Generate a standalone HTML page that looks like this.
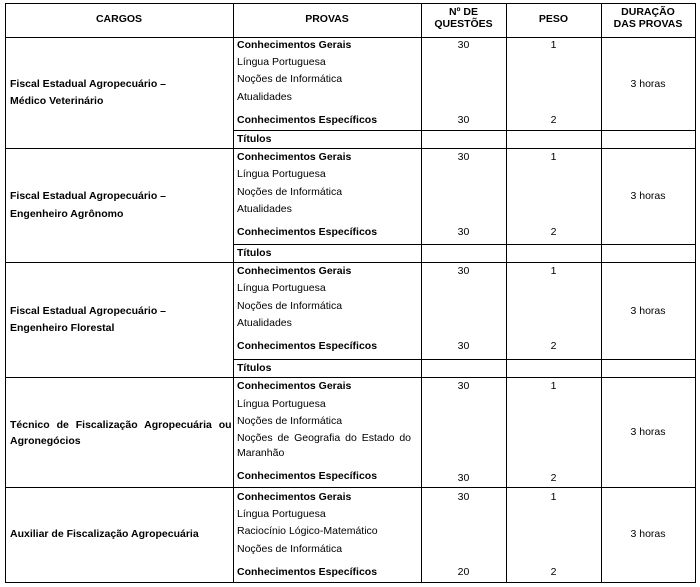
<!DOCTYPE html>
<html><head><meta charset="utf-8"><style>
body{margin:0;width:700px;height:587px;background:#fff;position:relative;overflow:hidden;font-family:"Liberation Sans",sans-serif;font-size:10.5px;color:#000}
.h{position:absolute;background:#000;height:1px}
.v{position:absolute;background:#000;width:1px}
.t{position:absolute;line-height:12px;white-space:nowrap}
.b{font-weight:bold}
.c{text-align:center}
</style></head><body>
<div class="h" style="left:5px;width:691px;top:3px"></div>
<div class="h" style="left:5px;width:691px;top:37px"></div>
<div class="h" style="left:233px;width:463px;top:130px"></div>
<div class="h" style="left:5px;width:691px;top:148px"></div>
<div class="h" style="left:233px;width:463px;top:244px"></div>
<div class="h" style="left:5px;width:691px;top:262px"></div>
<div class="h" style="left:233px;width:463px;top:359px"></div>
<div class="h" style="left:5px;width:691px;top:377px"></div>
<div class="h" style="left:5px;width:691px;top:487px"></div>
<div class="h" style="left:5px;width:691px;top:582px"></div>
<div class="v" style="left:5px;top:3px;height:580px"></div>
<div class="v" style="left:233px;top:3px;height:580px"></div>
<div class="v" style="left:421px;top:3px;height:580px"></div>
<div class="v" style="left:506px;top:3px;height:580px"></div>
<div class="v" style="left:601px;top:3px;height:580px"></div>
<div class="v" style="left:695px;top:3px;height:580px"></div>

<div class="t b c" style="left:5px;width:228px;top:13px">CARGOS</div>
<div class="t b c" style="left:233px;width:188px;top:13px">PROVAS</div>
<div class="t b c" style="left:421px;width:85px;top:6px">Nº DE<br>QUESTÕES</div>
<div class="t b c" style="left:506px;width:95px;top:13px">PESO</div>
<div class="t b c" style="left:601px;width:94px;top:6px">DURAÇÃO<br>DAS PROVAS</div>

<!-- section 1 -->
<div class="t b" style="left:10px;top:78px">Fiscal Estadual Agropecuário –</div>
<div class="t b" style="left:10px;top:95px">Médico Veterinário</div>
<div class="t b" style="left:237px;top:39px">Conhecimentos Gerais</div>
<div class="t" style="left:237px;top:56px">Língua Portuguesa</div>
<div class="t" style="left:237px;top:73px">Noções de Informática</div>
<div class="t" style="left:237px;top:91px">Atualidades</div>
<div class="t b" style="left:237px;top:114px">Conhecimentos Específicos</div>
<div class="t b" style="left:237px;top:133px">Títulos</div>
<div class="t c" style="left:421px;width:85px;top:39px">30</div>
<div class="t c" style="left:506px;width:95px;top:39px">1</div>
<div class="t c" style="left:421px;width:85px;top:114px">30</div>
<div class="t c" style="left:506px;width:95px;top:114px">2</div>
<div class="t c" style="left:601px;width:94px;top:78px">3 horas</div>

<!-- section 2 -->
<div class="t b" style="left:10px;top:190px">Fiscal Estadual Agropecuário –</div>
<div class="t b" style="left:10px;top:208px">Engenheiro Agrônomo</div>
<div class="t b" style="left:237px;top:151px">Conhecimentos Gerais</div>
<div class="t" style="left:237px;top:168px">Língua Portuguesa</div>
<div class="t" style="left:237px;top:186px">Noções de Informática</div>
<div class="t" style="left:237px;top:203px">Atualidades</div>
<div class="t b" style="left:237px;top:226px">Conhecimentos Específicos</div>
<div class="t b" style="left:237px;top:247px">Títulos</div>
<div class="t c" style="left:421px;width:85px;top:151px">30</div>
<div class="t c" style="left:506px;width:95px;top:151px">1</div>
<div class="t c" style="left:421px;width:85px;top:226px">30</div>
<div class="t c" style="left:506px;width:95px;top:226px">2</div>
<div class="t c" style="left:601px;width:94px;top:190px">3 horas</div>

<!-- section 3 -->
<div class="t b" style="left:10px;top:305px">Fiscal Estadual Agropecuário –</div>
<div class="t b" style="left:10px;top:322px">Engenheiro Florestal</div>
<div class="t b" style="left:237px;top:265px">Conhecimentos Gerais</div>
<div class="t" style="left:237px;top:282px">Língua Portuguesa</div>
<div class="t" style="left:237px;top:300px">Noções de Informática</div>
<div class="t" style="left:237px;top:317px">Atualidades</div>
<div class="t b" style="left:237px;top:340px">Conhecimentos Específicos</div>
<div class="t b" style="left:237px;top:362px">Títulos</div>
<div class="t c" style="left:421px;width:85px;top:265px">30</div>
<div class="t c" style="left:506px;width:95px;top:265px">1</div>
<div class="t c" style="left:421px;width:85px;top:340px">30</div>
<div class="t c" style="left:506px;width:95px;top:340px">2</div>
<div class="t c" style="left:601px;width:94px;top:305px">3 horas</div>

<!-- section 4 -->
<div class="t b" style="left:10px;top:419px;word-spacing:4px">Técnico de Fiscalização Agropecuária ou</div>
<div class="t b" style="left:10px;top:435px">Agronegócios</div>
<div class="t b" style="left:237px;top:380px">Conhecimentos Gerais</div>
<div class="t" style="left:237px;top:398px">Língua Portuguesa</div>
<div class="t" style="left:237px;top:415px">Noções de Informática</div>
<div class="t" style="left:237px;top:432px;word-spacing:2px">Noções de Geografia do Estado do</div>
<div class="t" style="left:237px;top:447px">Maranhão</div>
<div class="t b" style="left:237px;top:470px">Conhecimentos Específicos</div>
<div class="t c" style="left:421px;width:85px;top:380px">30</div>
<div class="t c" style="left:506px;width:95px;top:380px">1</div>
<div class="t c" style="left:421px;width:85px;top:472px">30</div>
<div class="t c" style="left:506px;width:95px;top:472px">2</div>
<div class="t c" style="left:601px;width:94px;top:426px">3 horas</div>

<!-- section 5 -->
<div class="t b" style="left:10px;top:528px">Auxiliar de Fiscalização Agropecuária</div>
<div class="t b" style="left:237px;top:491px">Conhecimentos Gerais</div>
<div class="t" style="left:237px;top:508px">Língua Portuguesa</div>
<div class="t" style="left:237px;top:525px">Raciocínio Lógico-Matemático</div>
<div class="t" style="left:237px;top:543px">Noções de Informática</div>
<div class="t b" style="left:237px;top:566px">Conhecimentos Específicos</div>
<div class="t c" style="left:421px;width:85px;top:491px">30</div>
<div class="t c" style="left:506px;width:95px;top:491px">1</div>
<div class="t c" style="left:421px;width:85px;top:566px">20</div>
<div class="t c" style="left:506px;width:95px;top:566px">2</div>
<div class="t c" style="left:601px;width:94px;top:528px">3 horas</div>
</body></html>
